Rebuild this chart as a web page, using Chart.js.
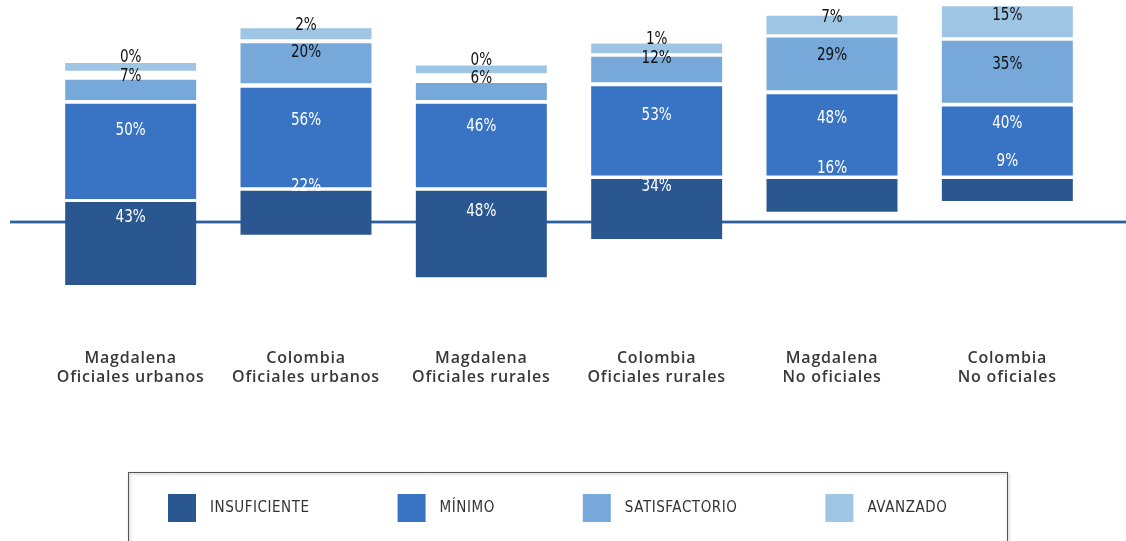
<!DOCTYPE html>
<html>
<head>
<meta charset="utf-8">
<script src="https://cdn.jsdelivr.net/npm/chart.js@4.4.0/dist/chart.umd.min.js"></script>
<style>
html,body{margin:0;padding:0;background:#fff;}
#wrap{width:1126px;height:541px;}
</style>
</head>
<body>
<div id="wrap"><canvas id="grafico" width="1126" height="541"></canvas></div>
<script>
var categorias = [["Magdalena","Oficiales urbanos"],["Colombia","Oficiales urbanos"],["Magdalena","Oficiales rurales"],["Colombia","Oficiales rurales"],["Magdalena","No oficiales"],["Colombia","No oficiales"]];
var niveles = ["INSUFICIENTE","MÍNIMO","SATISFACTORIO","AVANZADO"];

// porcentajes que se leen en cada tramo
var pctInsuficiente = [43,22,48,34,16,9];
var pctMinimo = [50,56,46,53,48,40];
var pctSatisfactorio = [7,20,6,12,29,35];
var pctAvanzado = [0,2,0,1,7,15];

// base y tope de cada tramo, como aparecen en la figura (0 = linea base)
var tramoInsuficiente = [[-32.2,10.4],[-6.4,16.1],[-28.2,16.1],[-8.7,22.1],[5.4,22.1],[10.9,22.1]];
var tramoMinimo = [[11.9,60.7],[17.9,69.0],[17.9,60.7],[23.9,69.7],[23.9,65.6],[23.9,59.3]];
var tramoSatisfactorio = [[62.7,73.0],[71.3,91.8],[62.7,71.4],[71.8,84.9],[67.7,94.7],[61.3,93.1]];
var tramoAvanzado = [[77.6,81.7],[93.8,99.5],[76.4,80.3],[86.7,91.6],[96.4,105.9],[94.9,110.8]];

var colores = ["#2b5791","#3973c3","#76a9d9","#9fc5e4"];

var fuenteNum = '"DejaVu Sans", sans-serif';

var lineaBase = {
    id : "lineaBase" ,
    beforeDatasetsDraw : function(chart){
        var ctx = chart.ctx ;
        var y = Math.round(chart.scales.y.getPixelForValue(0)) ;
        ctx.save() ;
        ctx.strokeStyle = "#a9bfdc" ;
        ctx.lineWidth = 4 ;
        ctx.beginPath() ; ctx.moveTo(10, y) ; ctx.lineTo(chart.width, y) ; ctx.stroke() ;
        ctx.strokeStyle = "#2f5e9c" ;
        ctx.lineWidth = 2 ;
        ctx.beginPath() ; ctx.moveTo(10, y) ; ctx.lineTo(chart.width, y) ; ctx.stroke() ;
        ctx.restore() ;
    }
};

// texto angosto: se comprime en horizontal
function textoAngosto(ctx, txt, x, y, escala){
    ctx.save() ;
    ctx.translate(x, y) ;
    ctx.scale(escala, 1) ;
    ctx.fillText(txt, 0, 0) ;
    ctx.restore() ;
}

var etiquetas = {
    id : "etiquetas" ,
    afterDatasetsDraw : function(chart){
        var ctx = chart.ctx ;
        var ys = chart.scales.y ;
        ctx.save() ;
        ctx.font = "17px " + fuenteNum ;
        ctx.textAlign = "center" ;
        ctx.textBaseline = "middle" ;
        chart.data.datasets.forEach(function(ds, d){
            var meta = chart.getDatasetMeta(d) ;
            ctx.fillStyle = ds.colorTexto ;
            meta.data.forEach(function(bar, i){
                var tope = ds.data[i][1] ;
                var p = ds.pct[i] ;
                var y = ys.getPixelForValue(tope - p / 2) - ds.desplazamiento ;
                textoAngosto(ctx, p + "%", bar.x, y, 0.8) ;
            }) ;
        }) ;
        // categorias bajo las barras
        var xs = chart.scales.x ;
        ctx.font = '600 16px "Open Sans", "Noto Sans", sans-serif' ;
        ctx.letterSpacing = "0.8px" ;
        ctx.fillStyle = "#383838" ;
        categorias.forEach(function(c, i){
            var x = xs.getPixelForTick(i) ;
            ctx.fillText(c[0], x, 358) ;
            ctx.fillText(c[1], x, 377) ;
        }) ;
        ctx.restore() ;
    }
};

var leyenda = {
    id : "leyenda" ,
    afterDraw : function(chart){
        var ctx = chart.ctx ;
        ctx.save() ;
        ctx.shadowColor = "rgba(0,0,0,0.35)" ;
        ctx.shadowBlur = 3 ;
        ctx.shadowOffsetX = 1 ;
        ctx.shadowOffsetY = 1 ;
        ctx.strokeStyle = "#555" ;
        ctx.lineWidth = 1 ;
        ctx.strokeRect(128.5, 472.5, 879, 100) ;
        ctx.restore() ;
        ctx.save() ;
        ctx.font = "15px " + fuenteNum ;
        ctx.letterSpacing = "0.6px" ;
        ctx.textBaseline = "middle" ;
        var x = 168 ;
        chart.data.datasets.forEach(function(ds){
            ctx.fillStyle = ds.backgroundColor ;
            ctx.fillRect(x, 494, 28, 28) ;
            ctx.fillStyle = "#333" ;
            textoAngosto(ctx, ds.label, x + 42, 508, 0.9) ;
            x += 28 + 14 + ctx.measureText(ds.label).width * 0.9 + 88 ;
        }) ;
        ctx.restore() ;
    }
};

var grafico = new Chart(document.getElementById("grafico").getContext("2d"), {
    type : "bar" ,
    data : {
        labels : categorias ,
        datasets : [
            { label : niveles[0] , data : tramoInsuficiente , pct : pctInsuficiente , backgroundColor : colores[0] , colorTexto : "#ffffff" , desplazamiento : 26 } ,
            { label : niveles[1] , data : tramoMinimo , pct : pctMinimo , backgroundColor : colores[1] , colorTexto : "#ffffff" , desplazamiento : 22 } ,
            { label : niveles[2] , data : tramoSatisfactorio , pct : pctSatisfactorio , backgroundColor : colores[2] , colorTexto : "#111111" , desplazamiento : 10 } ,
            { label : niveles[3] , data : tramoAvanzado , pct : pctAvanzado , backgroundColor : colores[3] , colorTexto : "#111111" , desplazamiento : 5 }
        ]
    },
    options : {
        responsive : false ,
        animation : false ,
        events : [] ,
        barPercentage : 0.747 ,
        categoryPercentage : 1 ,
        layout : { padding : { top : 4 , left : 43 , right : 31 , bottom : 197 } } ,
        plugins : { legend : { display : false } , tooltip : { enabled : false } } ,
        scales : {
            x : {
                stacked : true ,
                grid : { display : false , drawTicks : false } ,
                border : { display : false } ,
                ticks : { display : false }
            },
            y : {
                stacked : false ,
                display : false ,
                min : -62.5 ,
                max : 111.9
            }
        }
    },
    plugins : [lineaBase, etiquetas, leyenda]
});
</script>
</body>
</html>
